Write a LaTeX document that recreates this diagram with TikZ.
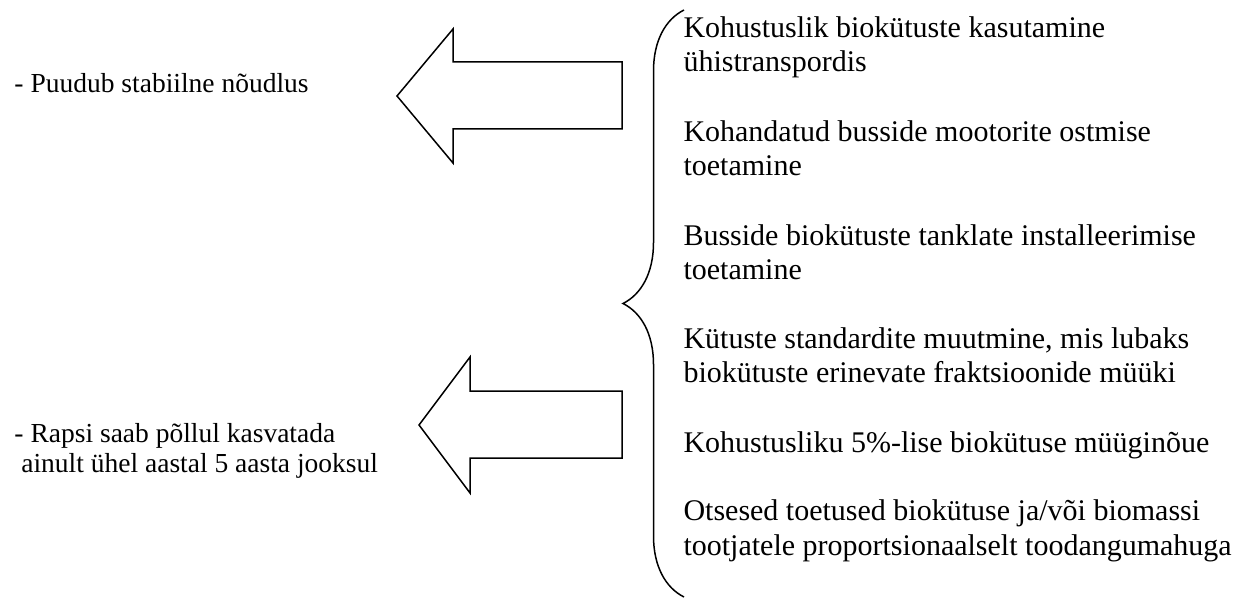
\documentclass[tikz,border=0pt]{standalone}
\usepackage{fontspec}
\setmainfont{Liberation Serif}
\usepackage{tikz}
\usetikzlibrary{decorations.pathreplacing, positioning, calc}

\begin{document}
\begin{tikzpicture}[
    x=0.4pt, y=-0.4pt,
    measure/.style={font=\fontsize{12pt}{13.8pt}\selectfont, align=left, anchor=base west, inner sep=0pt},
    problem/.style={font=\fontsize{11pt}{11.6pt}\selectfont, align=left, anchor=base west, inner sep=0pt},
    bigarrow/.style={draw, line width=0.6pt, line join=miter, fill=white},
    curly/.style={draw, line width=0.6pt, decorate, decoration={brace, amplitude=24.4pt}}
]
\useasboundingbox (0,0) rectangle (1244,598);

% Problems (anchored at the baseline of the last line)
\node[problem] (demand) at (14,93) {- Puudub stabiilne nõudlus};
\node[problem] (rape) at (14,472) {- Rapsi saab põllul kasvatada\\~ainult ühel aastal 5 aasta jooksul};

% Arrows
\draw[bigarrow] (622,62) -- (453,62) -- (453,29) -- (397,96) -- (453,163) -- (453,129) -- (622,129) -- cycle;
\draw[bigarrow] (622,391) -- (470,391) -- (470,357) -- (419,425) -- (470,493) -- (470,458) -- (622,458) -- cycle;

% Measures
\node[measure] (m1) at (683,72) {Kohustuslik biokütuste kasutamine\\ühistranspordis};
\node[measure] (m2) at (683,176) {Kohandatud busside mootorite ostmise\\toetamine};
\node[measure] (m3) at (683,280) {Busside biokütuste tanklate installeerimise\\toetamine};
\node[measure] (m4) at (683,383) {Kütuste standardite muutmine, mis lubaks\\biokütuste erinevate fraktsioonide müüki};
\node[measure] (m5) at (683,452) {Kohustusliku 5\%-lise biokütuse müüginõue};
\node[measure] (m6) at (683,555) {Otsesed toetused biokütuse ja/või biomassi\\tootjatele proportsionaalselt toodangumahuga};

% Brace
\coordinate (bracebot) at (684,597);
\coordinate (bracetop) at (684,10);
\draw[curly] (bracebot) -- (bracetop);
\end{tikzpicture}
\end{document}
